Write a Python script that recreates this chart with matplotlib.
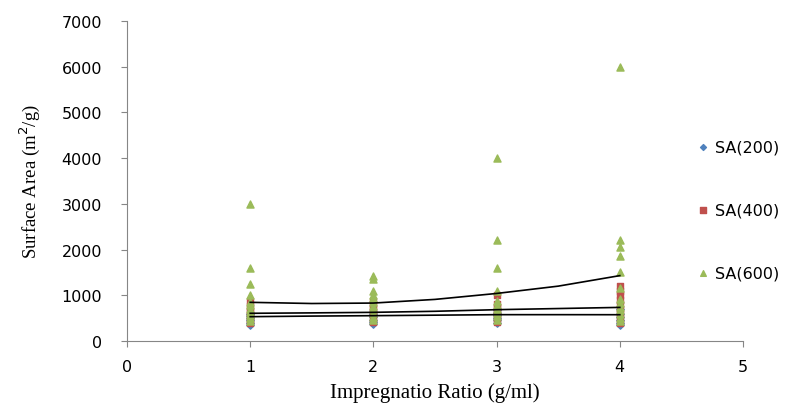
import matplotlib
matplotlib.use('Agg')
import matplotlib.pyplot as plt
import numpy as np

# impregnation ratio groups
ratios = [1, 2, 3, 4]

# surface area readings at each ratio (m2/g)
sa200 = [[350, 400, 450, 500, 550, 600],
         [380, 420, 470, 520, 580, 640],
         [400, 450, 500, 560, 620, 680],
         [360, 400, 460, 520, 600, 700]]
sa400 = [[400, 470, 540, 610, 680, 760, 880],
         [420, 500, 580, 650, 720, 800, 880],
         [420, 500, 580, 660, 740, 820, 1000],
         [400, 500, 600, 700, 800, 900, 1000, 1100, 1200]]
sa600 = [[430, 500, 570, 640, 710, 790, 850, 1000, 1250, 1600, 3000],
         [450, 530, 610, 690, 770, 850, 930, 1000, 1100, 1350, 1420],
         [460, 540, 620, 700, 780, 870, 1100, 1600, 2200, 4000],
         [430, 510, 590, 670, 750, 830, 920, 1150, 1500, 1850, 2050, 2200, 6000]]

# trend lines
trend_x = [1, 1.5, 2, 2.5, 3, 3.5, 4]
trend_top = [846, 820, 830, 910, 1040, 1200, 1430]
trend_mid = [606, 615, 627, 650, 685, 710, 735]
trend_low = [532, 545, 554, 565, 576, 576, 575]

fig = plt.figure(figsize=(7.96, 4.10), dpi=100)
ax = fig.add_axes([127/796., 68/410., 616/796., 320/410.])

def flat(groups):
    xs, ys = [], []
    for r, g in zip(ratios, groups):
        xs += [r]*len(g)
        ys += g
    return xs, ys

x, y = flat(sa200)
ax.scatter(x, y, marker='D', s=14, color='#4F81BD', label='SA(200)', zorder=3)
x, y = flat(sa400)
ax.scatter(x, y, marker='s', s=22, color='#C0504D', label='SA(400)', zorder=3)
x, y = flat(sa600)
ax.scatter(x, y, marker='^', s=26, color='#9BBB59', label='SA(600)', zorder=3)

for t in [trend_top, trend_mid, trend_low]:
    ax.plot(trend_x, t, color='black', lw=1.2, zorder=4)

ax.set_xlim(0, 5)
ax.set_ylim(0, 7000)
ax.set_xticks(range(0, 6))
ax.set_yticks(range(0, 7001, 1000))
for s in ['top', 'right']:
    ax.spines[s].set_visible(False)
for s in ['left', 'bottom']:
    ax.spines[s].set_color('#868686')
ax.tick_params(colors='#868686', labelcolor='black', length=4, labelsize=11.5)
ax.tick_params(axis='x', pad=9)
ax.tick_params(axis='y', pad=14)

ax.set_xlabel('Impregnatio Ratio (g/ml)', family='Liberation Serif', fontsize=15, labelpad=6)
ax.set_ylabel('Surface Area (m$^2$/g)', family='Liberation Serif', fontsize=13.5, labelpad=14)

leg = fig.legend(loc='center left', bbox_to_anchor=(697/796., 199/410.), frameon=False,
                 fontsize=11.5, labelspacing=3.0, handlelength=0.75, handletextpad=0.4,
                 borderpad=0, borderaxespad=0, markerscale=0.8)

plt.savefig('out.png', dpi=100)
